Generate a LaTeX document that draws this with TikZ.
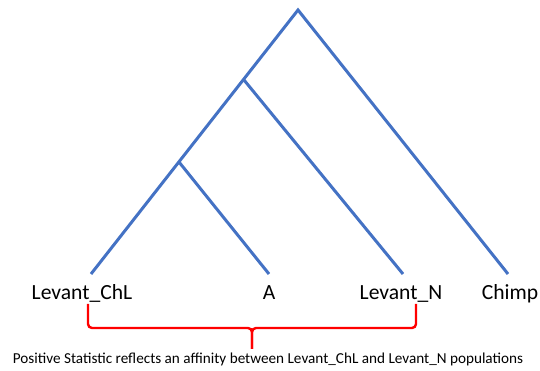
\documentclass[tikz,border=0pt]{standalone}
\usepackage{fontspec}
\setmainfont{Carlito}
\usepackage{xcolor}
\usetikzlibrary{positioning,calc}
\definecolor{treeblue}{HTML}{4472C4}
\definecolor{bracered}{HTML}{FF0000}

\begin{document}
\begin{tikzpicture}[x=1pt, y=1pt,
    branch/.style={treeblue, line width=3pt},
    leaflabel/.style={font=\fontsize{21.6}{24}\selectfont, anchor=base, inner sep=0pt},
    bracket/.style={bracered, line width=2.4pt, rounded corners=4pt}]
  \useasboundingbox (0, 0) rectangle (540, 371);

  % Internal nodes
  \coordinate (root) at (298, 361);
  \coordinate (inner2) at (244, 291);
  \coordinate (inner1) at (179, 209);

  % Leaf tips
  \coordinate (tipChL) at (91, 97);
  \coordinate (tipA) at (269, 97);
  \coordinate (tipN) at (403, 97);
  \coordinate (tipChimp) at (508, 97);

  % Leaf labels
  \node[leaflabel] (chl) at (82, 71) {Levant\_ChL};
  \node[leaflabel] (a) at (269, 71) {A};
  \node[leaflabel] (levn) at (401, 71) {Levant\_N};
  \node[leaflabel] (chimp) at (510, 71) {Chimp};

  % Branches
  \draw[branch] (tipChL) -- (root) -- (tipChimp);
  \draw[branch] (inner2) -- (tipN);
  \draw[branch] (inner1) -- (tipA);

  % Bracket
  \coordinate (brL) at (88, 67);
  \coordinate (brR) at (416, 67);
  \coordinate (brTip) at (252, 22);
  \draw[bracket] (brL) -- (brL |- 0, 43) -- (brTip |- 0, 43) -- (brTip);
  \draw[bracket] (brR) -- (brR |- 0, 43) -- (brTip |- 0, 43) -- (brTip);

  % Caption
  \node[font=\fontsize{15.2}{17}\selectfont, anchor=base, inner sep=0pt] (caption) at (268, 7)
    {Positive Statistic reflects an affinity between Levant\_ChL and Levant\_N populations};
\end{tikzpicture}
\end{document}
